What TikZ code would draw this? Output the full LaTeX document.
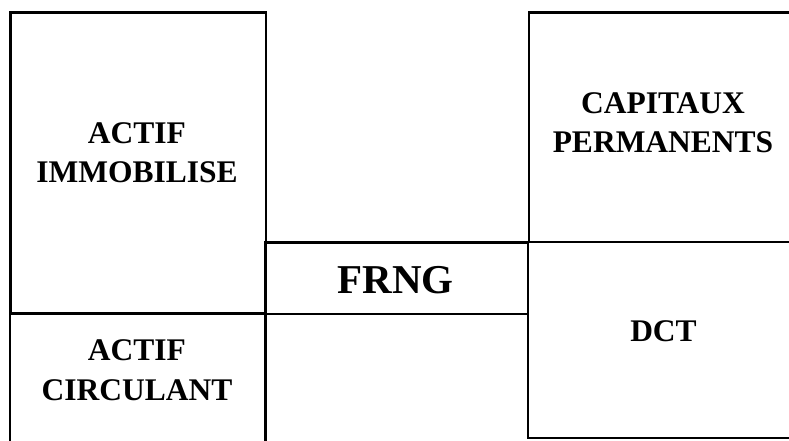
\documentclass[tikz,border=0pt]{standalone}
\usepackage{fontspec}
\setmainfont{Liberation Serif}
\begin{document}
\begin{tikzpicture}[x=1pt,y=-1pt,
  box/.style={draw=black,line width=2.2pt,inner sep=0pt},
  lbl/.style={font=\fontsize{31.5}{39.4}\selectfont\bfseries,align=center,inner sep=0pt,anchor=base},
  big/.style={font=\fontsize{41}{48}\selectfont\bfseries,inner sep=0pt,anchor=base}]
\useasboundingbox (0,0) rectangle (789,441);
\clip (0,0) rectangle (789,441);
% balance sheet blocks
\coordinate (aiNW) at (10.5,12.5);   \coordinate (aiSE) at (266,313.5);
\coordinate (acNW) at (10,313.5);    \coordinate (acSE) at (265.5,460);
\coordinate (frNW) at (265.5,242.5); \coordinate (frSE) at (528,314);
\coordinate (cpNW) at (529,12.5);    \coordinate (cpSE) at (810,241.7);
\coordinate (dcNW) at (528,241.7);   \coordinate (dcSE) at (810,438);
\draw[box] (aiNW) rectangle (aiSE);
\draw[box] (acNW) rectangle (acSE);
\draw[box] (frNW) rectangle (frSE);
\draw[box] (cpNW) rectangle (cpSE);
\draw[box] (dcNW) rectangle (dcSE);
% labels (anchored on the baseline of their last line)
\node[lbl] (ai) at (137,182.7) {ACTIF\\IMMOBILISE};
\node[lbl] (ac) at (137,400) {ACTIF\\CIRCULANT};
\node[lbl] (cp) at (663,152.7) {CAPITAUX\\PERMANENTS};
\node[lbl] (dct) at (663.5,341.7) {DCT};
\node[big] (frng) at (395.5,293.3) {FRNG};
\end{tikzpicture}
\end{document}
